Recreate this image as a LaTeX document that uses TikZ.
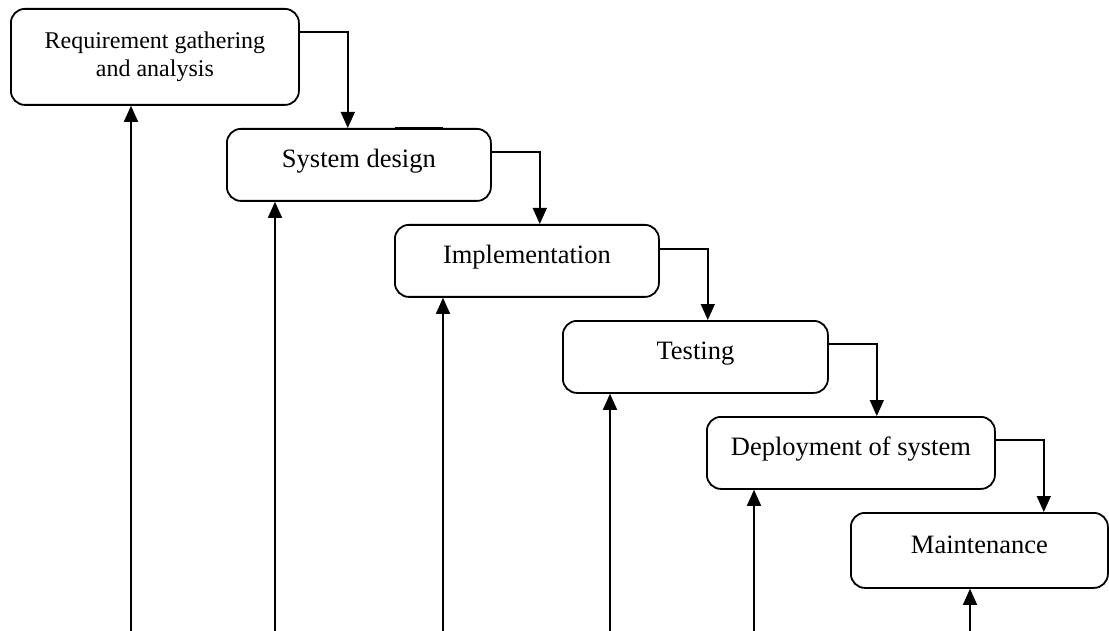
\documentclass[tikz,border=0pt]{standalone}
\usepackage{fontspec}
\setmainfont{Liberation Serif}
\usetikzlibrary{arrows.meta,calc}
\tikzset{
  box/.style={draw, line width=1.8pt, rounded corners=14pt, anchor=north west, inner sep=0pt, align=center},
  single/.style={font=\fontsize{26.5}{30}\selectfont, text height=20pt, text depth=14pt},
  arr/.style={line width=1.5pt, -{Triangle[length=16pt,width=14pt]}},
}
\begin{document}
\begin{tikzpicture}[x=1pt,y=-1pt]
\useasboundingbox (0,0) rectangle (1109,631);
\node[box, minimum width=288pt, minimum height=96pt, font=\fontsize{24}{27.5}\selectfont] (b1) at (10,8) {Requirement gathering\\and analysis};
\node[box, single, minimum width=264pt, minimum height=72pt] (b2) at (226,128) {System design};
\node[box, single, minimum width=264pt, minimum height=72pt] (b3) at (394,224) {Implementation};
\node[box, single, minimum width=265pt, minimum height=72pt] (b4) at (562,320) {Testing};
\node[box, single, minimum width=288pt, minimum height=72pt] (b5) at (706,416) {Deployment of system};
\node[box, single, minimum width=257pt, minimum height=75pt] (b6) at (850,512) {Maintenance};
% darker segment on top of System design
\draw[line width=2.6pt] ($(b2.north west)+(169,0)$) -- ($(b2.north west)+(217,0)$);
% forward connectors
\draw[arr] ($(b1.north east)+(0,24)$) -- ++(48,0) coordinate (t1) -- (t1 |- b2.north);
\draw[arr] ($(b2.north east)+(0,24)$) -- ++(48,0) coordinate (t2) -- (t2 |- b3.north);
\draw[arr] ($(b3.north east)+(0,25)$) -- ++(48,0) coordinate (t3) -- (t3 |- b4.north);
\draw[arr] ($(b4.north east)+(0,24)$) -- ++(48,0) coordinate (t4) -- (t4 |- b5.north);
\draw[arr] ($(b5.north east)+(0,24)$) -- ++(48,0) coordinate (t5) -- (t5 |- b6.north);
% feedback arrows from bottom
\coordinate (u1) at (131,631);
\coordinate (u2) at (275,631);
\coordinate (u3) at (443,631);
\coordinate (u4) at (610,631);
\coordinate (u5) at (754,631);
\coordinate (u6) at (970,631);
\draw[arr] (u1) -- (u1 |- b1.south);
\draw[arr] (u2) -- (u2 |- b2.south);
\draw[arr] (u3) -- (u3 |- b3.south);
\draw[arr] (u4) -- (u4 |- b4.south);
\draw[arr] (u5) -- (u5 |- b5.south);
\draw[arr] (u6) -- (u6 |- b6.south);
\end{tikzpicture}
\end{document}
